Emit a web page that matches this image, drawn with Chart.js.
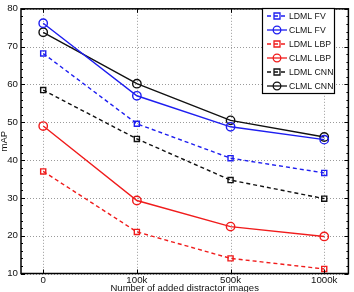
<!DOCTYPE html>
<html>
<head>
<meta charset="utf-8">
<script src="https://cdn.jsdelivr.net/npm/chart.js@4"></script>
<style>
  html, body { margin: 0; padding: 0; background: #fff; }
  #wrap { width: 354px; height: 292px; }
</style>
</head>
<body>
<div id="wrap"><canvas id="chart"></canvas></div>
<script>
const xLabels = ["0", "100k", "500k", "1000k"];
const yTicks  = [10, 20, 30, 40, 50, 60, 70, 80];

const ldmlFV  = [68.2, 49.6, 40.5, 36.6];
const clmlFV  = [76.2, 57.0, 48.8, 45.4];
const ldmlLBP = [37.0, 21.0, 14.0, 11.2];
const clmlLBP = [49.0, 29.3, 22.4, 19.8];
const ldmlCNN = [58.5, 45.6, 34.7, 29.8];
const clmlCNN = [73.8, 60.2, 50.5, 46.1];

const BLUE = "#1e1ef0", RED = "#f01c1c", BLACK = "#111111";
const FONT = "'Liberation Sans', Arial, Helvetica, sans-serif";

function series(label, values, color, dashed) {
  return {
    label,
    data: values.map((v, i) => ({ x: i, y: v })),
    borderColor: color,
    backgroundColor: "rgba(255,255,255,0)",
    borderWidth: 1.4,
    borderDash: dashed ? [4, 3] : [],
    pointStyle: dashed ? "rect" : "circle",
    pointRadius: dashed ? 3.6 : 4.2,
    pointBorderWidth: 1.4,
    pointBorderColor: color,
    pointBackgroundColor: "rgba(255,255,255,0)",
    tension: 0
  };
}

const datasets = [
  series("LDML FV",  ldmlFV,  BLUE,  true),
  series("CLML FV",  clmlFV,  BLUE,  false),
  series("LDML LBP", ldmlLBP, RED,   true),
  series("CLML LBP", clmlLBP, RED,   false),
  series("LDML CNN", ldmlCNN, BLACK, true),
  series("CLML CNN", clmlCNN, BLACK, false)
];

// dotted grid under the lines
const dottedGrid = {
  id: "dottedGrid",
  beforeDatasetsDraw(chart) {
    const { ctx, chartArea: a, scales } = chart;
    ctx.save();
    ctx.strokeStyle = "#9a9a9a";
    ctx.lineWidth = 1;
    ctx.setLineDash([1, 2]);
    yTicks.forEach(v => {
      const py = Math.round(scales.y.getPixelForValue(v)) + 0.5;
      ctx.beginPath(); ctx.moveTo(a.left, py); ctx.lineTo(a.right, py); ctx.stroke();
    });
    xLabels.forEach((_, i) => {
      const px = Math.round(scales.x.getPixelForValue(i)) + 0.5;
      ctx.beginPath(); ctx.moveTo(px, a.top); ctx.lineTo(px, a.bottom); ctx.stroke();
    });
    ctx.restore();
  }
};

// box, inner ticks, axis titles and the matlab-style legend
const matlabFrame = {
  id: "matlabFrame",
  afterDraw(chart) {
    const { ctx, chartArea: a, scales } = chart;
    const x = scales.x, y = scales.y;
    ctx.save();
    ctx.strokeStyle = "#000";
    ctx.lineWidth = 1;
    for (let v = 10; v <= 80; v += 2) {
      const py = Math.round(y.getPixelForValue(v)) + 0.5;
      const len = v % 10 === 0 ? 4 : 2;
      ctx.beginPath();
      ctx.moveTo(a.left, py); ctx.lineTo(a.left + len, py);
      ctx.moveTo(a.right, py); ctx.lineTo(a.right - len, py);
      ctx.stroke();
    }
    for (let i = 0; i < xLabels.length; i++) {
      const px = Math.round(x.getPixelForValue(i)) + 0.5;
      ctx.beginPath();
      ctx.moveTo(px, a.bottom); ctx.lineTo(px, a.bottom - 4);
      ctx.moveTo(px, a.top); ctx.lineTo(px, a.top + 4);
      ctx.stroke();
    }
    ctx.lineWidth = 1.5;
    ctx.strokeRect(a.left, a.top, a.right - a.left, a.bottom - a.top);

    // axis titles
    ctx.fillStyle = "#111";
    ctx.font = "9.5px " + FONT;
    ctx.textAlign = "center";
    ctx.textBaseline = "middle";
    ctx.fillText("Number of added distractor images", (a.left + a.right) / 2, 288);
    ctx.save();
    ctx.translate(4, (a.top + a.bottom) / 2);
    ctx.rotate(-Math.PI / 2);
    ctx.fillText("mAP", 0, 0);
    ctx.restore();

    // legend
    const bx = 262.5, by = 8.5, bw = 72, bh = 85;
    ctx.fillStyle = "#fff";
    ctx.fillRect(bx, by, bw, bh);
    ctx.lineWidth = 1.2;
    ctx.strokeStyle = "#000";
    ctx.strokeRect(bx, by, bw, bh);
    ctx.font = "8.7px " + FONT;
    ctx.textAlign = "left";
    chart.data.datasets.forEach((ds, i) => {
      const ly = 16 + i * 14;
      ctx.strokeStyle = ds.borderColor;
      ctx.lineWidth = 1.3;
      ctx.setLineDash(ds.borderDash);
      ctx.beginPath();
      ctx.moveTo(267, ly); ctx.lineTo(287, ly);
      ctx.stroke();
      ctx.setLineDash([]);
      ctx.beginPath();
      if (ds.pointStyle === "rect") {
        ctx.rect(274, ly - 3, 6, 6);
      } else {
        ctx.arc(277, ly, 3.8, 0, Math.PI * 2);
      }
      ctx.stroke();
      ctx.fillStyle = "#111";
      ctx.fillText(ds.label, 289, ly + 0.5);
    });
    ctx.restore();
  }
};

new Chart(document.getElementById("chart"), {
  type: "line",
  data: { datasets },
  options: {
    responsive: true,
    maintainAspectRatio: false,
    animation: false,
    layout: { padding: { top: 3, right: 4, left: 0, bottom: 0 } },
    plugins: { legend: { display: false }, tooltip: { enabled: false } },
    scales: {
      x: {
        type: "linear",
        min: -0.237,
        max: 3.258,
        afterBuildTicks: s => { s.ticks = xLabels.map((_, i) => ({ value: i })); },
        afterFit: s => { s.height = 18.5; },
        ticks: {
          color: "#111",
          padding: 1,
          font: { family: FONT, size: 9.7 },
          callback: v => xLabels[v]
        },
        grid: { display: false, drawTicks: false, tickLength: 0 },
        border: { display: false }
      },
      y: {
        min: 10,
        max: 80,
        afterBuildTicks: s => { s.ticks = yTicks.map(v => ({ value: v })); },
        afterFit: s => { s.width = 21; },
        ticks: {
          color: "#111",
          padding: 3,
          font: { family: FONT, size: 9.7 }
        },
        grid: { display: false, drawTicks: false, tickLength: 0 },
        border: { display: false }
      }
    }
  },
  plugins: [dottedGrid, matlabFrame]
});
</script>
</body>
</html>
